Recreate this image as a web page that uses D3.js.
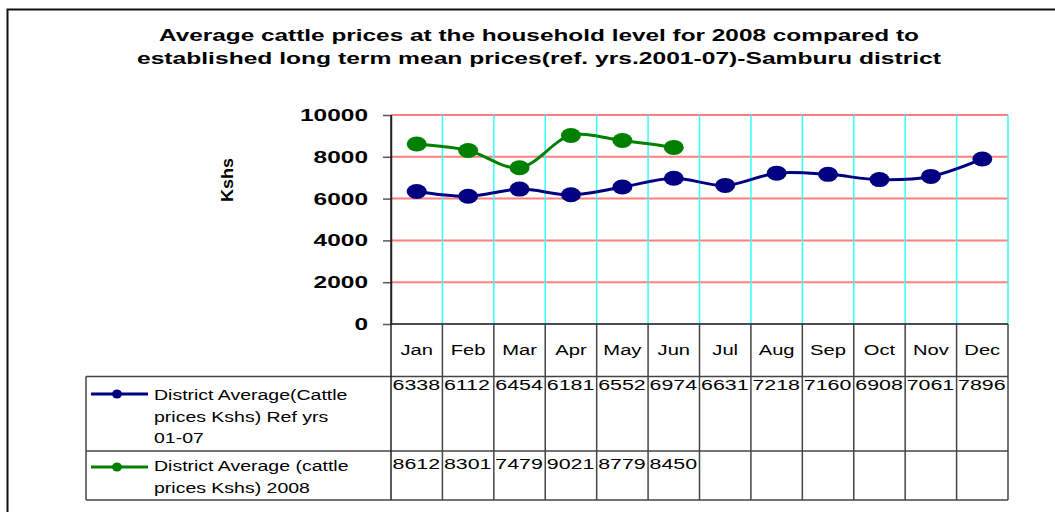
<!DOCTYPE html>
<html>
<head>
<meta charset="utf-8">
<script src="https://cdn.jsdelivr.net/npm/d3@7"></script>
<style>
  body { margin: 0; background: #fff; }
  text { font-family: "Liberation Sans", Arial, sans-serif; }
</style>
</head>
<body>
<div id="chart"></div>
<script>
// data
const months = ["Jan", "Feb", "Mar", "Apr", "May", "Jun", "Jul", "Aug", "Sep", "Oct", "Nov", "Dec"];
const refAvg = [6338, 6112, 6454, 6181, 6552, 6974, 6631, 7218, 7160, 6908, 7061, 7896];
const avg2008 = [8612, 8301, 7479, 9021, 8779, 8450, null, null, null, null, null, null];
const yTicks = [0, 2000, 4000, 6000, 8000, 10000];
const seriesNames = [
    ["District Average(Cattle", "prices Kshs) Ref yrs", "01-07"],
    ["District Average (cattle", "prices Kshs) 2008"]
];
const seriesColors = ["#000080", "#008000"];

const width = 1055;
const height = 512;
const plotLeft = 391, plotRight = 1008, plotTop = 115, plotBottom = 324;
const legendLeft = 86;
const rowLines = [324, 376.5, 451, 500];
const tableLine = "#444";

const svg = d3.select("#chart").append("svg")
    .attr("width", width)
    .attr("height", height);

// outer frame
svg.append("rect")
    .attr("x", 7.5).attr("y", 9.5)
    .attr("width", 1070).attr("height", 520)
    .attr("fill", "none").attr("stroke", "#111").attr("stroke-width", 2);

// title
const titleLines = [
    ["Average cattle prices at the household level for 2008 compared to", 41, 760],
    ["established long term mean prices(ref. yrs.2001-07)-Samburu district", 64, 804]
];
svg.append("g").selectAll("text")
    .data(titleLines)
    .join("text")
        .attr("x", 539)
        .attr("y", d => d[1])
        .attr("text-anchor", "middle")
        .attr("font-size", 17)
        .attr("font-weight", "bold")
        .attr("textLength", d => d[2])
        .attr("lengthAdjust", "spacingAndGlyphs")
        .text(d => d[0]);

// scales
const x = d3.scaleBand()
    .domain(months)
    .range([plotLeft, plotRight])
    .paddingInner(0).paddingOuter(0);

const y = d3.scaleLinear()
    .domain([0, 10000])
    .range([plotBottom, plotTop]);

// horizontal grid
svg.append("g").selectAll("line")
    .data(yTicks.filter(d => d > 0))
    .join("line")
        .attr("x1", plotLeft).attr("x2", plotRight)
        .attr("y1", d => y(d)).attr("y2", d => y(d))
        .attr("stroke", "#ff7f7f").attr("stroke-width", 2);

// vertical grid at category boundaries
svg.append("g").selectAll("line")
    .data(months)
    .join("line")
        .attr("x1", d => x(d) + x.bandwidth())
        .attr("x2", d => x(d) + x.bandwidth())
        .attr("y1", plotTop).attr("y2", plotBottom)
        .attr("stroke", "#33ffff").attr("stroke-width", 1.5);

// y axis
const yAxis = svg.append("g")
    .attr("transform", `translate(${plotLeft},0)`)
    .call(d3.axisLeft(y).tickValues(yTicks).tickFormat(d3.format("d"))
        .tickSize(8).tickPadding(15).tickSizeOuter(0));
yAxis.select(".domain").attr("stroke", "#222").attr("stroke-width", 1.5);
yAxis.selectAll(".tick line").attr("stroke", "#555").attr("stroke-width", 1.5);
yAxis.selectAll(".tick text")
    .attr("font-family", "'Liberation Sans', Arial, sans-serif")
    .attr("font-size", 17)
    .attr("font-weight", "bold")
    .attr("fill", "#000")
    .attr("textLength", d => String(d).length * 13.6)
    .attr("lengthAdjust", "spacingAndGlyphs");

// y axis title
svg.append("text")
    .attr("transform", "translate(233,180) rotate(-90)")
    .attr("text-anchor", "middle")
    .attr("font-size", 16)
    .attr("font-weight", "bold")
    .attr("textLength", 44)
    .attr("lengthAdjust", "spacingAndGlyphs")
    .text("Kshs");

// data table lines
const table = svg.append("g");
table.selectAll("line.row")
    .data(rowLines)
    .join("line")
        .attr("class", "row")
        .attr("x1", (d, i) => i === 0 ? plotLeft : legendLeft)
        .attr("x2", plotRight)
        .attr("y1", d => d).attr("y2", d => d)
        .attr("stroke", (d, i) => i === 0 ? "#111" : tableLine)
        .attr("stroke-width", 1.5);
table.selectAll("line.col")
    .data(d3.range(months.length + 1))
    .join("line")
        .attr("class", "col")
        .attr("x1", i => plotLeft + i * x.bandwidth())
        .attr("x2", i => plotLeft + i * x.bandwidth())
        .attr("y1", i => i === 0 ? plotTop : plotBottom)
        .attr("y2", rowLines[3])
        .attr("stroke", i => i === 0 ? "#222" : tableLine)
        .attr("stroke-width", 1.5);
table.append("line")
    .attr("x1", legendLeft).attr("x2", legendLeft)
    .attr("y1", rowLines[1]).attr("y2", rowLines[3])
    .attr("stroke", tableLine).attr("stroke-width", 1.5);

// month labels
table.selectAll("text.month")
    .data(months)
    .join("text")
        .attr("class", "month")
        .attr("transform", d => `translate(${x(d) + x.bandwidth() / 2},355) scale(1.3,1)`)
        .attr("text-anchor", "middle")
        .attr("font-size", 15.5)
        .text(d => d);

// values in table
const rows = [refAvg, avg2008];
const rowBaselines = [390, 469];
rows.forEach((vals, r) => {
    table.append("g").selectAll("text")
        .data(months.map((m, i) => [m, vals[i]]).filter(d => d[1] != null))
        .join("text")
            .attr("transform", d => `translate(${x(d[0]) + 1.5},${rowBaselines[r]}) scale(1.38,1)`)
            .attr("font-size", 15.5)
            .text(d => d[1]);
});

// legend keys inside the table
const legendBaselines = [[400, 422, 443], [471, 493]];
const legendKeyY = [394, 467];
seriesNames.forEach((lines, s) => {
    const g = table.append("g");
    g.append("line")
        .attr("x1", 91).attr("x2", 148)
        .attr("y1", legendKeyY[s]).attr("y2", legendKeyY[s])
        .attr("stroke", seriesColors[s]).attr("stroke-width", 3);
    g.append("ellipse")
        .attr("cx", 117).attr("cy", legendKeyY[s])
        .attr("rx", 5).attr("ry", 4.5)
        .attr("fill", seriesColors[s]);
    g.selectAll("text")
        .data(lines)
        .join("text")
            .attr("transform", (d, i) => `translate(154,${legendBaselines[s][i]}) scale(1.3,1)`)
            .attr("font-size", 15)
            .text(d => d);
});

// series lines and markers
const line = d3.line()
    .defined(d => d[1] != null)
    .x(d => x(d[0]) + x.bandwidth() / 2)
    .y(d => y(d[1]))
    .curve(d3.curveCatmullRom.alpha(0.5));

rows.forEach((vals, s) => {
    const pts = months.map((m, i) => [m, vals[i]]);
    svg.append("path")
        .datum(pts)
        .attr("d", line)
        .attr("fill", "none")
        .attr("stroke", seriesColors[s])
        .attr("stroke-width", 3);
    svg.append("g").selectAll("ellipse")
        .data(pts.filter(d => d[1] != null))
        .join("ellipse")
            .attr("cx", d => x(d[0]) + x.bandwidth() / 2)
            .attr("cy", d => y(d[1]))
            .attr("rx", 10).attr("ry", 7.5)
            .attr("fill", seriesColors[s]);
});
</script>
</body>
</html>
